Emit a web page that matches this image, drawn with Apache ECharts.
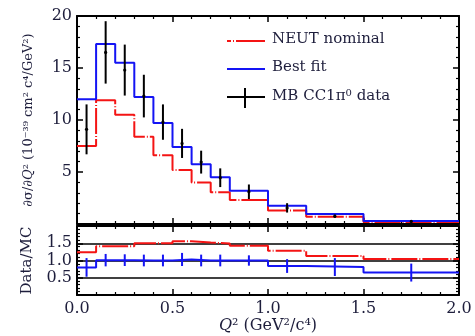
<!DOCTYPE html>
<html>
<head>
<meta charset="utf-8">
<script src="https://cdn.jsdelivr.net/npm/echarts@6/dist/echarts.min.js"></script>
<style>html,body{margin:0;padding:0;background:#fff}#c{width:475px;height:336px}</style>
</head>
<body>
<div id="c"></div>
<script>
// ---- data ----
const binEdges = [0, 0.1, 0.2, 0.3, 0.4, 0.5, 0.6, 0.7, 0.8, 1.0, 1.2, 1.5, 2.0];
const neutNominal = [7.5, 11.9, 10.5, 8.4, 6.6, 5.2, 4.0, 3.05, 2.3, 1.3, 0.7, 0.2];
const bestFit = [12.0, 17.3, 15.5, 12.2, 9.7, 7.4, 5.75, 4.5, 3.2, 1.75, 0.95, 0.3];
const dataX = [0.05, 0.15, 0.25, 0.35, 0.45, 0.55, 0.65, 0.75, 0.9, 1.1, 1.35, 1.75];
const dataY = [9.1, 16.5, 14.8, 12.3, 9.8, 7.75, 5.95, 4.45, 3.1, 1.55, 0.75, 0.25];
const dataErr = [2.4, 3.0, 2.45, 2.05, 1.7, 1.4, 1.1, 0.9, 0.7, 0.45, 0.15, 0.08];
const ratioNominal = [1.24, 1.41, 1.41, 1.5, 1.5, 1.56, 1.52, 1.49, 1.43, 1.28, 1.13, 1.04];
const ratioBestFit = [0.8, 1.01, 1.01, 1.0, 1.0, 1.03, 1.0, 1.0, 1.0, 0.84, 0.81, 0.65];
const ratioErr = [0.27, 0.18, 0.17, 0.17, 0.17, 0.19, 0.17, 0.17, 0.15, 0.2, 0.26, 0.26];
const xTicks = [0.0, 0.5, 1.0, 1.5, 2.0];
const yTicksTop = [5, 10, 15, 20];
const yTicksRatio = [0.5, 1.0, 1.5];
const legendNames = ['NEUT nominal', 'Best fit', 'MB CC1π⁰ data'];

const RED = '#f41414', BLUE = '#1414f4';
const FONT = 'DejaVu Serif';
const LBL = '#1e1e3c';
const RED_DASH = [26, 2, 1, 2];

function stepData(vals) {
  return binEdges.map((e, i) => [e, vals[Math.min(i, vals.length - 1)]]);
}
function errData(xs, ys, es) {
  return xs.map((x, i) => [x, ys[i], es[i]]);
}
function errRender(color, dot) {
  return function (params, api) {
    const x = api.value(0), y = api.value(1), e = api.value(2);
    const p1 = api.coord([x, y + e]);
    const p2 = api.coord([x, y - e]);
    const c = api.coord([x, y]);
    const ch = [{ type: 'line', shape: { x1: p1[0], y1: p1[1], x2: p2[0], y2: p2[1] }, style: { stroke: color, lineWidth: 2 } }];
    if (dot) ch.push({ type: 'circle', shape: { cx: c[0], cy: c[1], r: 1.6 }, style: { fill: color } });
    return { type: 'group', children: ch };
  };
}

const tickStyle = { show: true, inside: true, length: 6, lineStyle: { color: '#000', width: 1.5 } };
const minorStyle = { show: true, splitNumber: 5, length: 3, lineStyle: { color: '#000', width: 1.2 } };
const lineStyle = { show: true, onZero: false, lineStyle: { color: '#000', width: 2 } };
const labelStyle = { fontFamily: FONT, fontSize: 16, color: LBL };

function xAx(grid, pos, showLabels, name) {
  return {
    type: 'value', gridIndex: grid, position: pos, min: 0, max: 2, interval: 0.5,
    axisLine: lineStyle, axisTick: tickStyle, minorTick: minorStyle,
    splitLine: { show: false },
    axisLabel: showLabels ? Object.assign({ margin: 6, formatter: v => xTicks.includes(v) ? v.toFixed(1) : '' }, labelStyle) : { show: false },
    name: name || '', nameLocation: 'middle', nameGap: 17,
    nameTextStyle: { fontFamily: FONT, fontSize: 16, color: LBL,
      rich: { i: { fontFamily: FONT, fontStyle: 'italic', fontSize: 16, color: LBL }, d: { fontFamily: FONT, fontSize: 16, color: LBL } } }
  };
}

const option = {
  animation: false,
  backgroundColor: '#fff',
  grid: [
    { left: 77, top: 16, width: 382, height: 208 },
    { left: 77, top: 226, width: 382, height: 69 }
  ],
  xAxis: [
    xAx(0, 'bottom', false),
    xAx(0, 'top', false),
    xAx(1, 'bottom', true, '{i|Q}{d|² (GeV²/c⁴)}'),
    xAx(1, 'top', false)
  ],
  yAxis: [
    {
      type: 'value', gridIndex: 0, position: 'left', min: 0, max: 20, interval: 5,
      axisLine: lineStyle, axisTick: tickStyle, minorTick: minorStyle, splitLine: { show: false },
      axisLabel: Object.assign({ margin: 5, formatter: v => yTicksTop.includes(v) ? String(v) : '' }, labelStyle),
      name: '{d|∂σ/∂}{i|Q}{d|² (10⁻³⁹ cm² c⁴/GeV²)}', nameLocation: 'middle', nameRotate: 90, nameGap: 42,
      nameTextStyle: { rich: { i: { fontFamily: FONT, fontStyle: 'italic', fontSize: 13, color: LBL }, d: { fontFamily: FONT, fontSize: 13, color: LBL } } }
    },
    {
      type: 'value', gridIndex: 0, position: 'right', min: 0, max: 20, interval: 5,
      axisLine: lineStyle, axisTick: tickStyle, minorTick: minorStyle, splitLine: { show: false },
      axisLabel: { show: false }
    },
    {
      type: 'value', gridIndex: 1, position: 'left', min: 0, max: 2, interval: 0.5,
      axisLine: lineStyle, axisTick: tickStyle, minorTick: minorStyle,
      splitLine: { show: true, lineStyle: { color: '#000', width: 1.5 } },
      axisLabel: Object.assign({ margin: 5, formatter: v => yTicksRatio.includes(v) ? v.toFixed(1) : '' }, labelStyle),
      name: 'Data/MC', nameLocation: 'middle', nameRotate: 90, nameGap: 42,
      nameTextStyle: { fontFamily: FONT, fontSize: 15, color: LBL }
    },
    {
      type: 'value', gridIndex: 1, position: 'right', min: 0, max: 2, interval: 0.5,
      axisLine: lineStyle, axisTick: tickStyle, minorTick: minorStyle, splitLine: { show: false },
      axisLabel: { show: false }
    }
  ],
  series: [
    { name: legendNames[0], type: 'line', xAxisIndex: 0, yAxisIndex: 0, step: 'end', symbol: 'none',
      data: stepData(neutNominal), lineStyle: { color: RED, width: 2, type: RED_DASH }, z: 3 },
    { name: legendNames[1], type: 'line', xAxisIndex: 0, yAxisIndex: 0, step: 'end', symbol: 'none',
      data: stepData(bestFit), lineStyle: { color: BLUE, width: 2 }, z: 4 },
    { name: legendNames[2], type: 'custom', xAxisIndex: 0, yAxisIndex: 0, renderItem: errRender('#000', true),
      data: errData(dataX, dataY, dataErr), encode: { x: 0, y: [1, 2] }, z: 5 },
    { type: 'line', xAxisIndex: 2, yAxisIndex: 2, step: 'end', symbol: 'none',
      data: stepData(ratioNominal), lineStyle: { color: RED, width: 2, type: RED_DASH }, z: 3 },
    { type: 'line', xAxisIndex: 2, yAxisIndex: 2, step: 'end', symbol: 'none',
      data: stepData(ratioBestFit), lineStyle: { color: BLUE, width: 2 }, z: 4 },
    { type: 'custom', xAxisIndex: 2, yAxisIndex: 2, renderItem: errRender(BLUE, false),
      data: errData(dataX, dataX.map((x, i) => ratioBestFit[i]), ratioErr), encode: { x: 0, y: [1, 2] }, z: 5 }
  ],
  graphic: [
    { type: 'line', shape: { x1: 227, y1: 41, x2: 265, y2: 41 }, style: { stroke: RED, lineWidth: 2, lineDash: [4, 2, 1, 2, 40, 0] } },
    { type: 'text', left: 272, top: 32, style: { text: legendNames[0], font: '15px "DejaVu Serif"', fill: LBL } },
    { type: 'line', shape: { x1: 227, y1: 69, x2: 265, y2: 69 }, style: { stroke: BLUE, lineWidth: 2 } },
    { type: 'text', left: 272, top: 60, style: { text: legendNames[1], font: '15px "DejaVu Serif"', fill: LBL } },
    { type: 'line', shape: { x1: 227, y1: 97, x2: 265, y2: 97 }, style: { stroke: '#000', lineWidth: 2 } },
    { type: 'line', shape: { x1: 245, y1: 88, x2: 245, y2: 108 }, style: { stroke: '#000', lineWidth: 2 } },
    { type: 'text', left: 272, top: 88, style: {
        text: '{a|MB CC1π}{s|0}{a| data}',
        rich: { a: { font: '15px "DejaVu Serif"', fill: LBL, color: LBL }, s: { font: '10px "DejaVu Serif"', fill: LBL, color: LBL, verticalAlign: 'top', padding: [0, 0, 6, 0] } } } }
  ]
};

const chart = echarts.init(document.getElementById('c'), null, { renderer: 'canvas' });
chart.setOption(option);
</script>
</body>
</html>
